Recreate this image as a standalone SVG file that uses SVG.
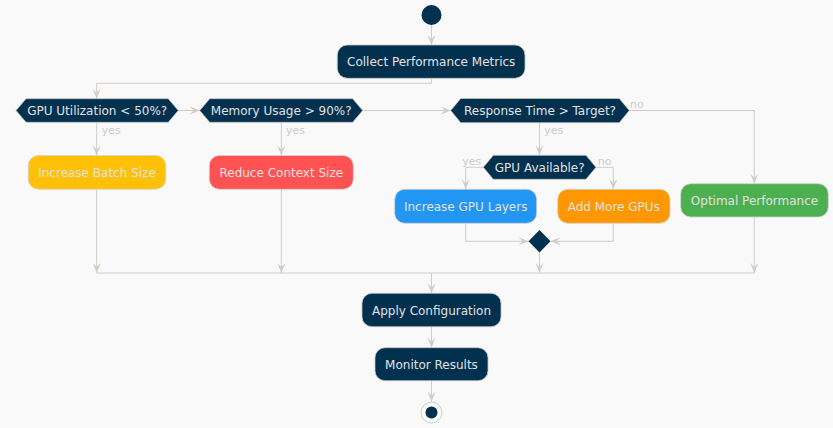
<svg xmlns="http://www.w3.org/2000/svg" width="833" height="428" viewBox="0 0 833 428">
<defs>
<style>
.bg{fill:#F9F9F9}
.dark{fill:#02304F;stroke:#C8C4C0;stroke-width:0.8}
.box{stroke:#D6D2CE;stroke-width:0.8}
.t{font-family:"DejaVu Sans",sans-serif;font-size:12px;fill:#E2E2E2;text-anchor:middle}
.lbl{font-family:"DejaVu Sans",sans-serif;font-size:11px;fill:#CFCBC8}
.c{fill:none;stroke:#D2CDC8;stroke-width:1}
</style>
<marker id="ah" viewBox="0 0 10 10" refX="10" refY="5" markerWidth="10" markerHeight="10" markerUnits="userSpaceOnUse" orient="auto">
<path d="M0,1 L10,5 L0,9 L4,5 Z" fill="#D2CDC8"/>
</marker>
</defs>
<rect class="bg" x="0" y="0" width="833" height="428"/>

<g id="connectors">
<path class="c" d="M431.5,25 V45" marker-end="url(#ah)"/>
<path class="c" d="M431.5,78.3 V83.3 H96.7 V98.7" marker-end="url(#ah)"/>
<path class="c" d="M178.3,110.5 H199.7" marker-end="url(#ah)"/>
<path class="c" d="M362.7,110.5 H450.7" marker-end="url(#ah)"/>
<path class="c" d="M96.7,122.3 V155.5" marker-end="url(#ah)"/>
<path class="c" d="M281.3,122.3 V155.5" marker-end="url(#ah)"/>
<path class="c" d="M629.3,110.5 H754.3 V183.7" marker-end="url(#ah)"/>
<path class="c" d="M539.5,122.7 V155.3" marker-end="url(#ah)"/>
<path class="c" d="M483.3,167.3 H465.7 V189.3" marker-end="url(#ah)"/>
<path class="c" d="M596,167.3 H613.3 V189.3" marker-end="url(#ah)"/>
<path class="c" d="M465.7,223.3 V241.3 H528.5" marker-end="url(#ah)"/>
<path class="c" d="M613.3,223.3 V241.3 H550.5" marker-end="url(#ah)"/>
<path class="c" d="M96.7,189.3 V273" marker-end="url(#ah)"/>
<path class="c" d="M281.3,189.3 V273" marker-end="url(#ah)"/>
<path class="c" d="M539.5,252.3 V273" marker-end="url(#ah)"/>
<path class="c" d="M754.3,217 V273" marker-end="url(#ah)"/>
<path class="c" d="M96.7,273 H754.3"/>
<path class="c" d="M431.5,273 V293.3" marker-end="url(#ah)"/>
<path class="c" d="M431.5,326.7 V347.7" marker-end="url(#ah)"/>
<path class="c" d="M431.5,380.7 V401.7" marker-end="url(#ah)"/>
<text class="lbl" x="101.7" y="134">yes</text>
<text class="lbl" x="286" y="134">yes</text>
<text class="lbl" x="544.3" y="134">yes</text>
<text class="lbl" x="630" y="108">no</text>
<text class="lbl" x="462.3" y="164.5">yes</text>
<text class="lbl" x="597.7" y="164.5">no</text>
</g>

<g id="start"><circle cx="431.5" cy="15" r="10" fill="#02304F"/></g>

<g id="collect">
<rect class="dark" x="337.3" y="45" width="187.7" height="33.3" rx="10"/>
<text class="t" x="431.2" y="66">Collect Performance Metrics</text>
</g>

<g id="dec-gpu-util">
<path class="dark" d="M16,110.5 L26,98.7 H168.3 L178.3,110.5 L168.3,122.3 H26 Z"/>
<text class="t" x="97.2" y="115">GPU Utilization &lt; 50%?</text>
</g>

<g id="dec-memory">
<path class="dark" d="M199.7,110.5 L209.7,98.7 H352.7 L362.7,110.5 L352.7,122.3 H209.7 Z"/>
<text class="t" x="281.2" y="115">Memory Usage &gt; 90%?</text>
</g>

<g id="dec-response">
<path class="dark" d="M450.7,110.5 L460.7,98.5 H619.3 L629.3,110.5 L619.3,122.7 H460.7 Z"/>
<text class="t" x="540" y="115">Response Time &gt; Target?</text>
</g>

<g id="batch">
<rect class="box" x="28.3" y="155.5" width="137.4" height="33.8" rx="10" fill="#FFC107"/>
<text class="t" x="97" y="177">Increase Batch Size</text>
</g>

<g id="context">
<rect class="box" x="209.3" y="155.5" width="144" height="33.8" rx="10" fill="#FF5252"/>
<text class="t" x="281.3" y="177">Reduce Context Size</text>
</g>

<g id="dec-gpu-avail">
<path class="dark" d="M483.3,167.3 L493.3,155.3 H586 L596,167.3 L586,179.3 H493.3 Z"/>
<text class="t" x="539.7" y="171.8">GPU Available?</text>
</g>

<g id="gpu-layers">
<rect class="box" x="394.7" y="189.3" width="142" height="34" rx="10" fill="#2196F3"/>
<text class="t" x="465.7" y="211">Increase GPU Layers</text>
</g>

<g id="more-gpus">
<rect class="box" x="557.7" y="189.3" width="112.3" height="34" rx="10" fill="#FF9800"/>
<text class="t" x="613.8" y="211">Add More GPUs</text>
</g>

<g id="optimal">
<rect class="box" x="680.7" y="183.7" width="147.6" height="33.3" rx="10" fill="#4CAF50"/>
<text class="t" x="754.5" y="205">Optimal Performance</text>
</g>

<g id="merge">
<path d="M539.5,230 L550.5,241.3 L539.5,252.5 L528.5,241.3 Z" fill="#02304F"/>
</g>

<g id="apply">
<rect class="dark" x="362" y="293.3" width="139" height="33.4" rx="10"/>
<text class="t" x="431.5" y="314.5">Apply Configuration</text>
</g>

<g id="monitor">
<rect class="dark" x="375" y="347.7" width="113" height="33" rx="10"/>
<text class="t" x="431.5" y="368.7">Monitor Results</text>
</g>

<g id="end">
<circle cx="431.5" cy="412.5" r="10.5" fill="#F9F9F9" stroke="#D2CDC8" stroke-width="1"/>
<circle cx="431.5" cy="412.5" r="6" fill="#02304F"/>
</g>
</svg>
